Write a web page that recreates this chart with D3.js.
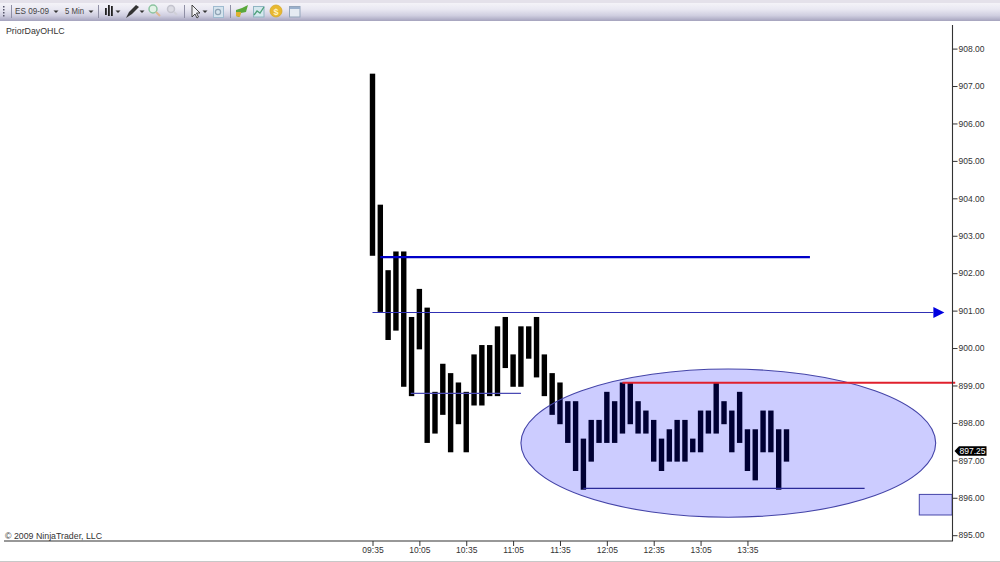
<!DOCTYPE html>
<html><head><meta charset="utf-8">
<style>html,body{margin:0;padding:0;background:#fff;overflow:hidden}svg{display:block}text{font-family:"Liberation Sans",Arial,sans-serif}</style>
<script src="https://cdn.jsdelivr.net/npm/d3@7/dist/d3.min.js"></script>
</head><body><svg id="c" width="1000" height="562"></svg>
<script>
const barIndex = d3.range(54);
const highs = [907.25,903.75,902,902.5,902.5,900.75,901.5,901,898.75,899.5,899.25,899,898.75,899.75,900,900,900.5,900.75,899.75,900.5,900.5,900.75,899.75,899.25,899,898.5,898.5,897.5,898,898,898.75,898.5,899,899,898.5,898.25,898,897.5,897.75,898,898,897.5,898.25,898.25,899,898.5,898.25,898.75,897.75,897.75,898.25,898.25,897.75,897.75];
const lows = [902.5,901,900.25,900.5,899,898.75,900,897.5,897.75,898.25,897.25,898,897.25,898.5,898.5,898.75,898.75,899.5,899,899,899.75,899.25,898.75,898.25,898,897.5,896.75,896.25,897,897.5,897.5,897.5,897.75,898,897.75,897.75,897,896.75,897,897,897,897.25,897.25,897.75,897.75,898,897.25,897.5,896.75,896.5,897.25,897.25,896.25,897];
const priceTicks = [895,896,897,898,899,900,901,902,903,904,905,906,907,908];
const timeTickIndex = [0,6,12,18,24,30,36,42,48];
const timeTickLabels = ["09:35","10:05","10:35","11:05","11:35","12:05","12:35","13:05","13:35"];
const lastPrice = 897.25;
// drawn trend lines: start bar, end bar, price
const thickLine = [1, 56, 902.43];
const arrowLine = [0, 71.8, 900.95];
const midLine = [4.9, 19, 898.79];
const redLine = [32, 74.6, 899.07];
const bottomLine = [27, 63, 896.25];
const ellipseBox = [19, 72.1, 899.44, 895.48];
const rectBox = [70, 74.2, 896.09, 895.54];

const svg = d3.select("#c");
const x = d3.scaleLinear().domain([0,53]).range([372.5,786.5]);
const y = d3.scaleLinear().domain([895,908]).range([535.2,48.6]);
const barW = 5.4, capTop = 3, capBottom = 1.3;

// toolbar
const defs = svg.append("defs");
const g = defs.append("linearGradient").attr("id","tb").attr("x1",0).attr("x2",0).attr("y1",0).attr("y2",1);
[[0,"#f4f3f8"],[0.35,"#e9e8f2"],[0.7,"#cfcee0"],[1,"#a5a3bd"]].forEach(s=>g.append("stop").attr("offset",s[0]).attr("stop-color",s[1]));
svg.append("rect").attr("width",1000).attr("height",3).attr("fill","#e4e1ea");
svg.append("rect").attr("y",3).attr("width",1000).attr("height",18).attr("fill","url(#tb)");
const tb = svg.append("g");
[11,98,184,230].forEach(v=>tb.append("line").attr("x1",v+.5).attr("x2",v+.5).attr("y1",5).attr("y2",18).attr("stroke","#8f8fa5"));
[6,9,12,15].forEach(v=>tb.append("rect").attr("x",3).attr("y",v).attr("width",1.5).attr("height",1.5).attr("fill","#55556a"));
tb.append("text").attr("x",15).attr("y",14).attr("font-size",9.4).attr("fill","#444").attr("textLength",34).attr("lengthAdjust","spacingAndGlyphs").text("ES 09-09");
tb.append("text").attr("x",65).attr("y",14).attr("font-size",9.4).attr("fill","#444").attr("textLength",19).attr("lengthAdjust","spacingAndGlyphs").text("5 Min");
[56,91,118,142,205].forEach(v=>tb.append("path").attr("d",`M${v-2.5},10.5h5l-2.5,2.5z`).attr("fill","#333"));
[[105,8,15],[108,5,16],[111,6,16]].forEach(b=>tb.append("rect").attr("x",b[0]).attr("y",b[1]).attr("width",1.8).attr("height",b[2]-b[1]).attr("fill","#222"));
tb.append("path").attr("d","M126,18l3,-6 7,-7 3,2 -7,7z").attr("fill","#333");
tb.append("circle").attr("cx",153).attr("cy",9).attr("r",4).attr("fill","#e2f2e6").attr("stroke","#8cc4a0").attr("stroke-width",1.5);
tb.append("path").attr("d","M156,12l4,4").attr("stroke","#e0b890").attr("stroke-width",2);
tb.append("circle").attr("cx",171).attr("cy",9).attr("r",3.5).attr("fill","#dcdce4").attr("stroke","#c4c4ce").attr("stroke-width",1.5);
tb.append("path").attr("d","M174,12l3,3").attr("stroke","#d0d0d8").attr("stroke-width",2);
tb.append("path").attr("d","M192,5v12l3,-3 2,4 1.5,-1 -2,-4h3.5z").attr("fill","#f2f2f5").attr("stroke","#333").attr("stroke-width",.9);
tb.append("rect").attr("x",213.5).attr("y",6.5).attr("width",10).attr("height",11).attr("fill","#d6e4ee").attr("stroke","#9fbbd0");
tb.append("circle").attr("cx",218).attr("cy",12).attr("r",2.6).attr("fill","none").attr("stroke","#8fa3b5").attr("stroke-width",1.2);
tb.append("path").attr("d","M236,10l6,-2 6,-3 -2,7 -5,1 -2,4 -3,-1z").attr("fill","#5aa83c");
tb.append("path").attr("d","M236,12l5,0 -1,5 -4,-1z").attr("fill","#e0b030");
tb.append("rect").attr("x",253.5).attr("y",6.5).attr("width",10.5).attr("height",10.5).attr("fill","#d5e8ee").attr("stroke","#8fb5c2");
tb.append("path").attr("d","M254,15l3,-4 3,2 4,-6").attr("fill","none").attr("stroke","#4fa07a").attr("stroke-width",1.3);
tb.append("circle").attr("cx",276).attr("cy",11).attr("r",6).attr("fill","#e8b830").attr("stroke","#d6a828").attr("stroke-width",.8);
tb.append("text").attr("x",276).attr("y",14.5).attr("font-size",9).attr("font-weight","bold").attr("text-anchor","middle").attr("fill","#fff3c0").text("$");
tb.append("rect").attr("x",289.5).attr("y",6.5).attr("width",10.5).attr("height",10.5).attr("fill","#e5ebf2").attr("stroke","#93a5bb");
tb.append("rect").attr("x",290).attr("y",7).attr("width",10).attr("height",2).attr("fill","#9ab0cc");

// texts
svg.append("text").attr("x",6).attr("y",33.5).attr("font-size",8.8).attr("fill","#333").text("PriorDayOHLC");
svg.append("text").attr("x",5).attr("y",538.5).attr("font-size",8.8).attr("fill","#333").text("\u00a9 2009 NinjaTrader, LLC");

// bars
svg.append("g").selectAll("rect").data(barIndex).join("rect")
  .attr("x",i=>x(i)-barW/2).attr("width",barW)
  .attr("y",i=>y(highs[i])-capTop)
  .attr("height",i=>y(lows[i])-y(highs[i])+capTop+capBottom)
  .attr("fill","#000");

const drawLine = (l,color,w)=>svg.append("line").attr("x1",x(l[0])).attr("x2",x(l[1])).attr("y1",y(l[2])).attr("y2",y(l[2])).attr("stroke",color).attr("stroke-width",w);

drawLine(midLine,"#4a4ab4",1.1);

// shapes
const shapeFill = "rgba(0,0,255,0.2)", shapeStroke = "#4444a8";
svg.append("ellipse")
  .attr("cx",(x(ellipseBox[0])+x(ellipseBox[1]))/2).attr("rx",(x(ellipseBox[1])-x(ellipseBox[0]))/2)
  .attr("cy",(y(ellipseBox[2])+y(ellipseBox[3]))/2).attr("ry",(y(ellipseBox[3])-y(ellipseBox[2]))/2)
  .attr("fill",shapeFill).attr("stroke",shapeStroke).attr("stroke-width",1.1);
svg.append("rect").attr("x",x(rectBox[0])).attr("width",x(rectBox[1])-x(rectBox[0]))
  .attr("y",y(rectBox[2])).attr("height",y(rectBox[3])-y(rectBox[2]))
  .attr("fill",shapeFill).attr("stroke",shapeStroke).attr("stroke-width",1);

drawLine(thickLine,"#0000c8",2.4);
drawLine(arrowLine,"#3030b4",1.1);
drawLine(redLine,"#e0202c",2);
drawLine(bottomLine,"#2a2a98",1.1);
const ax = x(arrowLine[1]), ay = y(arrowLine[2]);
svg.append("path").attr("d",`M${ax},${ay-5.5}L${ax+11},${ay}L${ax},${ay+5.5}Z`).attr("fill","#0000e0");

// axes
const yAxis = d3.axisRight(y).tickValues(priceTicks).tickFormat(d3.format(".2f")).tickSize(5).tickSizeOuter(0).tickPadding(1);
const yG = svg.append("g").attr("transform","translate(952.5,0)").call(yAxis);
yG.select(".domain").remove();
svg.append("line").attr("x1",952.5).attr("x2",952.5).attr("y1",25).attr("y2",541).attr("stroke","#333").attr("stroke-width",1.1);
const xAxis = d3.axisBottom(x).tickValues(timeTickIndex).tickFormat((d,i)=>timeTickLabels[i]).tickSize(5).tickPadding(.5);
const xG = svg.append("g").attr("transform","translate(0,541)").call(xAxis);
xG.select(".domain").remove();
svg.append("line").attr("x1",4).attr("x2",953).attr("y1",541).attr("y2",541).attr("stroke","#333").attr("stroke-width",1.1);
[yG,xG].forEach(a=>{a.selectAll("text").attr("font-size",8.5).attr("font-family",'"Liberation Sans",Arial,sans-serif').attr("fill","#333");a.selectAll(".tick line").attr("stroke","#333");});

// last price flag
const py = y(lastPrice);
svg.append("path").attr("d",`M954.5,${py}L959,${py-4.8}H986.5V${py+4.8}H959Z`).attr("fill","#000");
svg.append("text").attr("x",959.5).attr("y",py+3.1).attr("font-size",8.5).attr("fill","#fff").text(d3.format(".2f")(lastPrice));

// window bottom edge
svg.append("rect").attr("y",561).attr("width",1000).attr("height",1).attr("fill","#c8c8c8");
</script></body></html>
